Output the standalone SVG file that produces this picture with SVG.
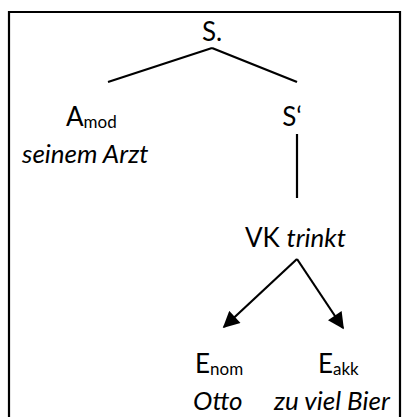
<svg xmlns="http://www.w3.org/2000/svg" width="409" height="417" viewBox="0 0 409 417">
  <defs>
    <marker id="arrow" viewBox="0 0 10 10" refX="9" refY="5" markerWidth="8" markerHeight="7.5" orient="auto" markerUnits="strokeWidth">
      <path d="M0,0 L10,5 L0,10 Z" fill="#000"/>
    </marker>
    <style>
      text { font-family: Lato, "Open Sans", "Liberation Sans", sans-serif; font-size: 26px; fill: #000; }
      .it { font-style: italic; }
      .sub { font-size: 17px; }
      .edge { stroke: #000; stroke-width: 2.2; fill: none; }
    </style>
  </defs>
  <rect width="409" height="417" fill="#fff"/>
  <!-- frame -->
  <path d="M9,418 V12 H400 V418" fill="none" stroke="#000" stroke-width="2.2"/>

  <g id="connectors">
    <line class="edge" x1="212" y1="48" x2="108" y2="82"/>
    <line class="edge" x1="212" y1="48" x2="297" y2="82"/>
    <line class="edge" x1="297" y1="134" x2="297" y2="198"/>
    <line class="edge" x1="297" y1="259" x2="224" y2="327" marker-end="url(#arrow)"/>
    <line class="edge" x1="297" y1="259" x2="343" y2="328" marker-end="url(#arrow)"/>
  </g>

  <g id="node-s">
    <text x="212" y="41" text-anchor="middle">S.</text>
  </g>
  <g id="node-amod">
    <text x="66" y="126">A<tspan class="sub" dy="2">mod</tspan></text>
    <text x="22" y="163" class="it">seinem Arzt</text>
  </g>
  <g id="node-s-prime">
    <text x="292" y="126" text-anchor="middle">S‘</text>
  </g>
  <g id="node-vk">
    <text x="245" y="247">VK <tspan class="it">trinkt</tspan></text>
  </g>
  <g id="node-enom">
    <text x="195" y="373">E<tspan class="sub" dy="2">nom</tspan></text>
    <text x="193" y="410" class="it">Otto</text>
  </g>
  <g id="node-eakk">
    <text x="318" y="373">E<tspan class="sub" dy="2">akk</tspan></text>
    <text x="274" y="410" class="it">zu viel Bier</text>
  </g>
</svg>
